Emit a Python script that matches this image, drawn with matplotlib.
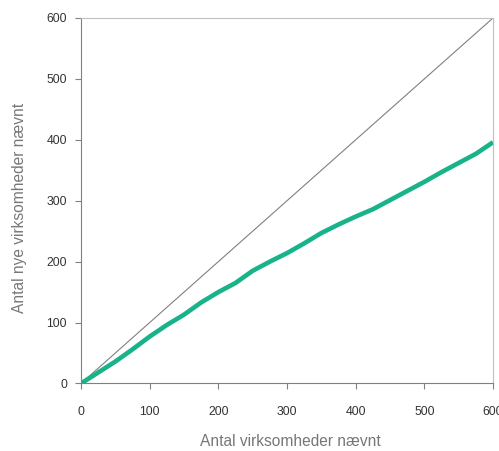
import matplotlib.pyplot as plt

plt.rcParams['font.family'] = ['Liberation Sans', 'DejaVu Sans']

# antal virksomheder nævnt vs. antal nye
antal = [0, 25, 50, 75, 100, 125, 150, 175, 200, 225, 250, 275, 300,
         325, 350, 375, 400, 425, 450, 475, 500, 525, 550, 575, 600]
nye = [0, 18, 36, 56, 77, 96, 113, 133, 150, 165, 185, 200, 214,
       230, 247, 261, 274, 286, 301, 316, 331, 347, 362, 377, 396]
diagonal = [0, 600]
ticks = [0, 100, 200, 300, 400, 500, 600]

fig = plt.figure(figsize=(4.99, 4.51), dpi=100)
ax = fig.add_axes([0.1623, 0.1497, 0.8257, 0.8104])

ax.plot(diagonal, diagonal, color='#808080', lw=0.8)
ax.plot(antal, nye, color='#19b38a', lw=3.3, solid_capstyle='butt')

ax.set_xlim(0, 600)
ax.set_ylim(0, 600)
ax.set_xticks(ticks)
ax.set_yticks(ticks)

for s in ['left', 'bottom']:
    ax.spines[s].set_color('#808080')
for s in ['top', 'right']:
    ax.spines[s].set_color('#c0c0c0')

ax.tick_params(axis='x', direction='out', length=4, color='#808080',
               labelsize=8.8, labelcolor='#333333', pad=12)
ax.tick_params(axis='y', direction='out', length=4, color='#808080',
               labelsize=8.8, labelcolor='#333333', pad=6)

ax.set_xlabel('Antal virksomheder nævnt', fontsize=11.2, color='#777777')
ax.set_ylabel('Antal nye virksomheder nævnt', fontsize=11.2, color='#777777')
ax.xaxis.set_label_coords(0.507, -0.139)
ax.yaxis.set_label_coords(-0.131, 0.48)

fig.savefig('out.png', dpi=100)
